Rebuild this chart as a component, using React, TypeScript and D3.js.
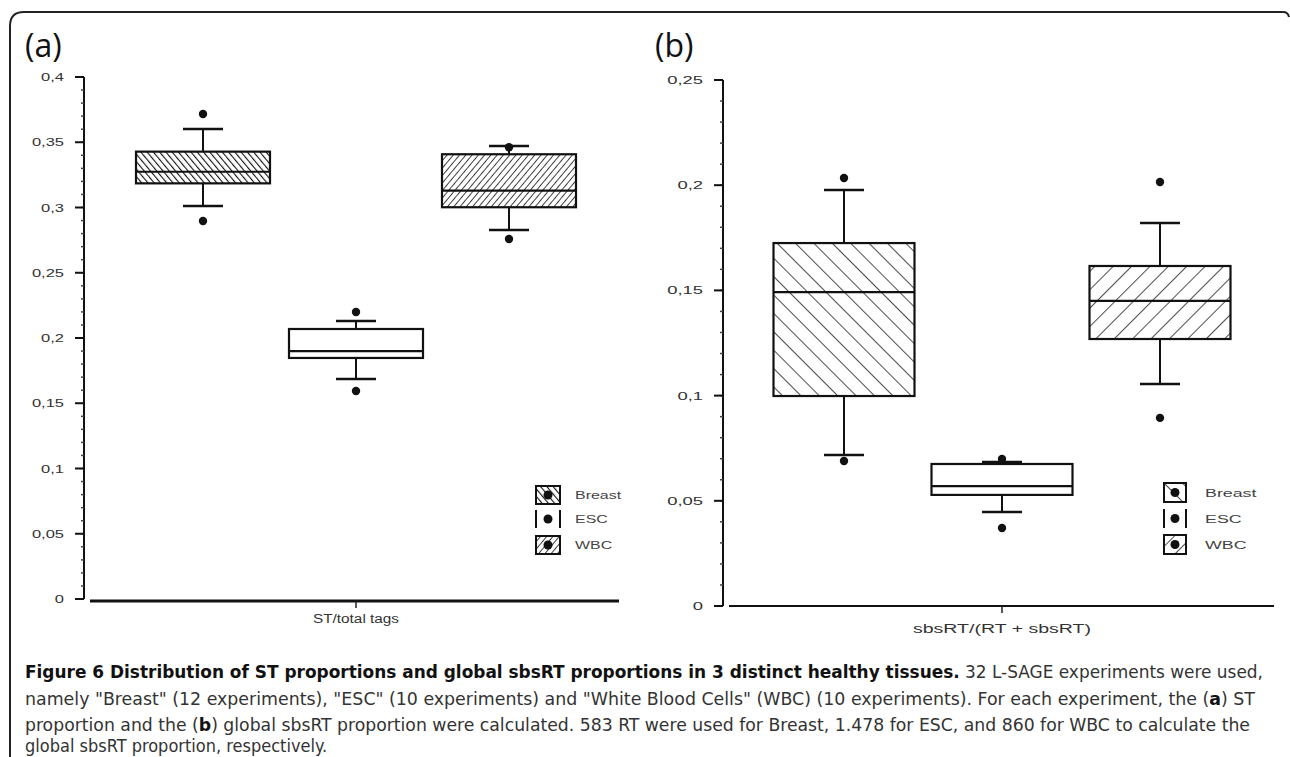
import React from "react";
import * as d3 from "d3";

// ---------- data ----------
const categories = ["Breast", "ESC", "WBC"];

// panel (a): ST / total tags
const aWhiskerLow = [0.3011, 0.1686, 0.2828];
const aQ1 = [0.3185, 0.1847, 0.3002];
const aMedian = [0.3274, 0.19, 0.3129];
const aQ3 = [0.3428, 0.2069, 0.3408];
const aWhiskerHigh = [0.3602, 0.213, 0.3471];
const aOutLow = [0.2897, 0.1594, 0.2759];
const aOutHigh = [0.3716, 0.2199, 0.3462];
const aTicks = [0, 0.05, 0.1, 0.15, 0.2, 0.25, 0.3, 0.35, 0.4];
const aTickLabels = ["0", "0,05", "0,1", "0,15", "0,2", "0,25", "0,3", "0,35", "0,4"];

// panel (b): sbsRT / (RT + sbsRT)
const bWhiskerLow = [0.0718, 0.0447, 0.1055];
const bQ1 = [0.0998, 0.0528, 0.1269];
const bMedian = [0.1492, 0.057, 0.145];
const bQ3 = [0.1725, 0.0675, 0.1616];
const bWhiskerHigh = [0.1977, 0.0684, 0.182];
const bOutLow = [0.0689, 0.0371, 0.0894];
const bOutHigh = [0.2034, 0.0699, 0.2015];
const bTicks = [0, 0.05, 0.1, 0.15, 0.2, 0.25];
const bTickLabels = ["0", "0,05", "0,1", "0,15", "0,2", "0,25"];

const TXT = "Liberation Sans, Arial, sans-serif";
const CAP = "'Liberation Sans Narrow', 'DejaVu Sans Condensed', 'Noto Sans', sans-serif";

type PanelProps = {
  id: string;
  title: string;
  yDomainMax: number;
  yRange: [number, number];
  axisX: number;
  centers: [number, number];
  boxW: number;
  xAxis: [number, number];
  xAxisY: number;
  xAxisW: number;
  axisLabel: string;
  axisLabelY: number;
  axisLabelW: number;
  ticks: number[];
  tickLabels: string[];
  tickFont: number;
  tickScale: number;
  wl: number[];
  q1: number[];
  med: number[];
  q3: number[];
  wh: number[];
  ol: number[];
  oh: number[];
  fills: string[];
  legendX: number;
  legendW: number;
  legendH: number;
  legendY: number[];
  legendLabelX: number;
  legendFont: number;
  legendScale: number;
  titleX: number;
};

function Panel(p: PanelProps) {
  const y = d3.scaleLinear().domain([0, p.yDomainMax]).range(p.yRange);
  const x = d3.scalePoint<string>().domain(categories).range(p.centers);
  const minor = y.ticks(Math.round(p.yDomainMax / 0.01));
  const capW = 40;
  return (
    <g>
      <text x={p.titleX} y={57} fontFamily="'Open Sans', 'Noto Sans', sans-serif" fontSize={32} fill="#111">
        {p.title}
      </text>
      {/* y axis */}
      <line x1={p.axisX} x2={p.axisX} y1={y(p.yDomainMax)} y2={y(0)} stroke="#111" strokeWidth={2} />
      {minor.map((t, i) => (
        <line key={"m" + i} x1={p.axisX - 3} x2={p.axisX} y1={y(t)} y2={y(t)} stroke="#444" strokeWidth={1.5} />
      ))}
      {p.ticks.map((t, i) => (
        <g key={"t" + i}>
          <line x1={p.axisX - 9} x2={p.axisX} y1={y(t)} y2={y(t)} stroke="#111" strokeWidth={2} />
          <text
            transform={`translate(${p.axisX - 20},${y(t) + 4}) scale(${p.tickScale},1)`}
            textAnchor="end"
            fontFamily={TXT}
            fontSize={p.tickFont}
            fill="#333"
          >
            {p.tickLabels[i]}
          </text>
        </g>
      ))}
      {/* x axis */}
      <line x1={p.xAxis[0]} x2={p.xAxis[1]} y1={p.xAxisY} y2={p.xAxisY} stroke="#111" strokeWidth={p.xAxisW} />
      <line x1={x("ESC")!} x2={x("ESC")!} y1={p.xAxisY} y2={p.xAxisY + 7} stroke="#222" strokeWidth={1.5} />
      <text
        x={x("ESC")!}
        y={p.axisLabelY}
        textAnchor="middle"
        fontFamily={TXT}
        fontSize={12}
        fill="#333"
        textLength={p.axisLabelW}
        lengthAdjust="spacingAndGlyphs"
      >
        {p.axisLabel}
      </text>
      {/* boxes */}
      {categories.map((c, i) => {
        const cx = x(c)!;
        return (
          <g key={c}>
            <line x1={cx} x2={cx} y1={y(p.wh[i])} y2={y(p.q3[i])} stroke="#111" strokeWidth={2} />
            <line x1={cx} x2={cx} y1={y(p.q1[i])} y2={y(p.wl[i])} stroke="#111" strokeWidth={2} />
            <line x1={cx - capW / 2} x2={cx + capW / 2} y1={y(p.wh[i])} y2={y(p.wh[i])} stroke="#111" strokeWidth={2.5} />
            <line x1={cx - capW / 2} x2={cx + capW / 2} y1={y(p.wl[i])} y2={y(p.wl[i])} stroke="#111" strokeWidth={2.5} />
            <rect
              x={cx - p.boxW / 2}
              y={y(p.q3[i])}
              width={p.boxW}
              height={y(p.q1[i]) - y(p.q3[i])}
              fill={p.fills[i]}
              stroke="#111"
              strokeWidth={2.2}
            />
            <line x1={cx - p.boxW / 2} x2={cx + p.boxW / 2} y1={y(p.med[i])} y2={y(p.med[i])} stroke="#111" strokeWidth={2.2} />
            <circle cx={cx} cy={y(p.oh[i])} r={4.2} fill="#111" />
            <circle cx={cx} cy={y(p.ol[i])} r={4.2} fill="#111" />
          </g>
        );
      })}
      {/* legend */}
      {categories.map((c, i) => {
        const ly = p.legendY[i];
        const lx = p.legendX;
        const isEsc = c === "ESC";
        return (
          <g key={"l" + c}>
            {isEsc ? (
              <g>
                <line x1={lx + 1} x2={lx + 1} y1={ly} y2={ly + p.legendH} stroke="#111" strokeWidth={2} />
                <line x1={lx + p.legendW - 1} x2={lx + p.legendW - 1} y1={ly} y2={ly + p.legendH} stroke="#111" strokeWidth={2} />
              </g>
            ) : (
              <rect x={lx + 1} y={ly} width={p.legendW - 2} height={p.legendH} fill={p.fills[i]} stroke="#111" strokeWidth={2} />
            )}
            <circle cx={lx + p.legendW / 2} cy={ly + p.legendH / 2} r={4.5} fill="#111" />
            <text
              transform={`translate(${p.legendLabelX},${ly + p.legendH / 2 + 4}) scale(${p.legendScale},1)`}
              fontFamily={TXT}
              fontSize={p.legendFont}
              fill="#444"
            >
              {c}
            </text>
          </g>
        );
      })}
    </g>
  );
}

export default function App() {
  const W = 1290;
  const H = 757;
  return (
    <svg
      width={W}
      height={H}
      viewBox={`0 0 ${W} ${H}`}
      style={{ position: "absolute", left: 0, top: 0, background: "#fff" }}
    >
      <defs>
        <pattern id="pA1" patternUnits="userSpaceOnUse" width={4.8} height={4.8} patternTransform="rotate(-40)">
          <line x1={0} y1={0} x2={0} y2={4.8} stroke="#111" strokeWidth={2.2} />
        </pattern>
        <pattern id="pA3" patternUnits="userSpaceOnUse" width={4.8} height={4.8} patternTransform="rotate(40)">
          <line x1={0} y1={0} x2={0} y2={4.8} stroke="#111" strokeWidth={1.6} />
        </pattern>
        <pattern id="pB1" patternUnits="userSpaceOnUse" width={13} height={13} patternTransform="rotate(-45)">
          <line x1={0} y1={0} x2={0} y2={13} stroke="#111" strokeWidth={1.5} />
        </pattern>
        <pattern id="pB3" patternUnits="userSpaceOnUse" width={13} height={13} patternTransform="rotate(45)">
          <line x1={0} y1={0} x2={0} y2={13} stroke="#111" strokeWidth={1.5} />
        </pattern>
      </defs>
      <rect x={0} y={0} width={W} height={H} fill="#fff" />
      {/* frame */}
      <path d="M 10 757 L 10 26 Q 10 12 24 12 L 1283 12 Q 1288 12 1289 17" fill="none" stroke="#222" strokeWidth={2} />

      <Panel
        id="a"
        title="(a)"
        titleX={25}
        yDomainMax={0.4}
        yRange={[599, 77]}
        axisX={84}
        centers={[203, 509]}
        boxW={134}
        xAxis={[90, 619]}
        xAxisY={601}
        xAxisW={3}
        axisLabel="ST/total tags"
        axisLabelY={623}
        axisLabelW={86}
        ticks={aTicks}
        tickLabels={aTickLabels}
        tickFont={11}
        tickScale={1.5}
        wl={aWhiskerLow}
        q1={aQ1}
        med={aMedian}
        q3={aQ3}
        wh={aWhiskerHigh}
        ol={aOutLow}
        oh={aOutHigh}
        fills={["url(#pA1)", "#fff", "url(#pA3)"]}
        legendX={535}
        legendW={26}
        legendH={18}
        legendY={[486, 510, 536]}
        legendLabelX={575}
        legendFont={11}
        legendScale={1.45}
      />
      <Panel
        id="b"
        title="(b)"
        titleX={655}
        yDomainMax={0.25}
        yRange={[606, 80]}
        axisX={723}
        centers={[844, 1160]}
        boxW={141}
        xAxis={[729, 1274]}
        xAxisY={606}
        xAxisW={2}
        axisLabel="sbsRT/(RT + sbsRT)"
        axisLabelY={633}
        axisLabelW={178}
        ticks={bTicks}
        tickLabels={bTickLabels}
        tickFont={11.5}
        tickScale={1.6}
        wl={bWhiskerLow}
        q1={bQ1}
        med={bMedian}
        q3={bQ3}
        wh={bWhiskerHigh}
        ol={bOutLow}
        oh={bOutHigh}
        fills={["url(#pB1)", "#fff", "url(#pB3)"]}
        legendX={1163}
        legendW={24}
        legendH={19}
        legendY={[483, 509, 535]}
        legendLabelX={1205}
        legendFont={11.5}
        legendScale={1.55}
      />

      {/* caption */}
      <g fontFamily={CAP} fontSize={18} fill="#333">
        <text x={25} y={678} textLength={1238} lengthAdjust="spacingAndGlyphs">
          <tspan fontWeight="bold" fill="#111">
            Figure 6 Distribution of ST proportions and global sbsRT proportions in 3 distinct healthy tissues.
          </tspan>
          <tspan> 32 L-SAGE experiments were used,</tspan>
        </text>
        <text x={25} y={705} textLength={1230} lengthAdjust="spacingAndGlyphs">
          <tspan>
            namely "Breast" (12 experiments), "ESC" (10 experiments) and "White Blood Cells" (WBC) (10 experiments). For each experiment, the (
          </tspan>
          <tspan fontWeight="bold" fill="#111">a</tspan>
          <tspan>) ST</tspan>
        </text>
        <text x={25} y={731} textLength={1225} lengthAdjust="spacingAndGlyphs">
          <tspan>proportion and the (</tspan>
          <tspan fontWeight="bold" fill="#111">b</tspan>
          <tspan>
            ) global sbsRT proportion were calculated. 583 RT were used for Breast, 1.478 for ESC, and 860 for WBC to calculate the
          </tspan>
        </text>
        <text x={25} y={752}>
          <tspan>global sbsRT proportion, respectively.</tspan>
        </text>
      </g>
    </svg>
  );
}
